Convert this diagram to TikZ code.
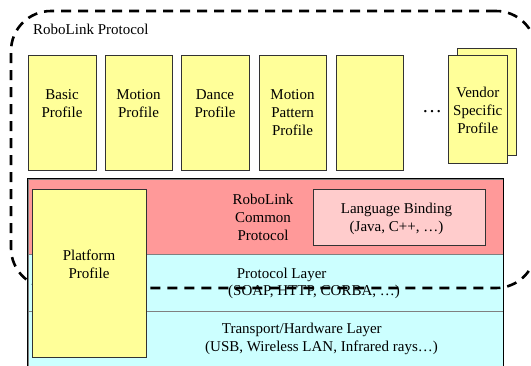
\documentclass[tikz,border=0pt]{standalone}
\usepackage{fontspec}
\setmainfont{Liberation Serif}
\definecolor{profyellow}{HTML}{FFFF99}
\definecolor{corered}{HTML}{FF9999}
\definecolor{bindpink}{HTML}{FFCCCC}
\definecolor{layercyan}{HTML}{CCFFFF}
\definecolor{edgegray}{HTML}{333333}
\definecolor{sepgray}{HTML}{808080}
\begin{document}
\begin{tikzpicture}[x=1pt,y=-1pt,
  txt/.style={font=\fontsize{15}{18}\selectfont, inner sep=0pt, align=center},
  pbox/.style={draw=edgegray, fill=profyellow, line width=0.9pt, inner sep=0pt},
  layer/.style={draw=sepgray, line width=0.8pt, inner sep=0pt, minimum width=475pt},
  dashline/.style={draw=black, line width=2.6pt, dash pattern=on 10pt off 7pt, rounded corners=40pt, inner sep=0pt}]
\useasboundingbox (0,0) rectangle (531,365);
\clip (0,0) rectangle (531,365);

% protocol stack layers
\node[layer, fill=corered, minimum height=75pt] (common) at (265.5,216.5) {};
\node[layer, fill=layercyan, minimum height=57pt] (protlayer) at (265.5,282.5) {};
\node[layer, fill=layercyan, minimum height=64pt] (transport) at (265.5,343) {};
\draw[black, line width=1.1pt] (common.north west) rectangle (transport.south east);

% language binding box
\node[draw=edgegray, fill=bindpink, line width=0.9pt, inner sep=0pt,
      minimum width=172pt, minimum height=56pt] (binding) at (399,217) {};
\node[txt, anchor=north] (bindtxt) at (396.5,202.5) {Language Binding\\(Java, C++, …)};

% layer labels
\node[txt, anchor=north] (commontxt) at (263,193.5) {RoboLink\\Common\\Protocol};
\node[txt, anchor=base west] (protA) at (236.7,278) {Protocol Layer};
\node[txt, anchor=base west] (protB) at (228,295) {(SOAP, HTTP, CORBA, …)};
\node[txt, anchor=base west] (transA) at (221.7,333) {Transport/Hardware Layer};
\node[txt, anchor=base west] (transB) at (205,351.5) {(USB, Wireless LAN, Infrared rays…)};

% boundary of the RoboLink protocol
\node[dashline, minimum width=525pt, minimum height=277pt] (rlp) at (273.5,149.5) {};
\node[txt, anchor=base west] (rlplbl) at (33,34) {RoboLink Protocol};

% platform profile spanning the layers
\node[pbox, minimum width=114pt, minimum height=168pt] (platform) at (89,273) {};
\node[txt, anchor=north] (platformtxt) at (89,249.7) {Platform\\Profile};

% application profiles
\node[pbox, minimum width=68pt, minimum height=115pt] (basic) at (62,112.5) {};
\node[pbox, minimum width=67pt, minimum height=115pt] (motion) at (138.5,112.5) {};
\node[pbox, minimum width=68pt, minimum height=115pt] (dance) at (215,112.5) {};
\node[pbox, minimum width=67pt, minimum height=115pt] (pattern) at (292.5,112.5) {};
\node[pbox, minimum width=67pt, minimum height=115pt] (blank) at (369.5,112.5) {};
\node[txt, anchor=north] (basictxt) at (62,89.7) {Basic\\Profile};
\node[txt, anchor=north] (motiontxt) at (138.5,89.7) {Motion\\Profile};
\node[txt, anchor=north] (dancetxt) at (215,89.7) {Dance\\Profile};
\node[txt, anchor=north] (patterntxt) at (292.5,89.7) {Motion\\Pattern\\Profile};

% vendor specific profiles (stacked)
\node[pbox, minimum width=59pt, minimum height=107pt] (vendorback) at (486.7,101.7) {};
\node[pbox, minimum width=59pt, minimum height=108pt] (vendor) at (477.8,109.2) {};
\node[txt, anchor=north] (vendortxt) at (477.8,86.4) {Vendor\\Specific\\Profile};
\node[inner sep=0pt, anchor=base, font=\fontsize{20}{24}\selectfont] (dots) at (432,112) {…};
\end{tikzpicture}
\end{document}
